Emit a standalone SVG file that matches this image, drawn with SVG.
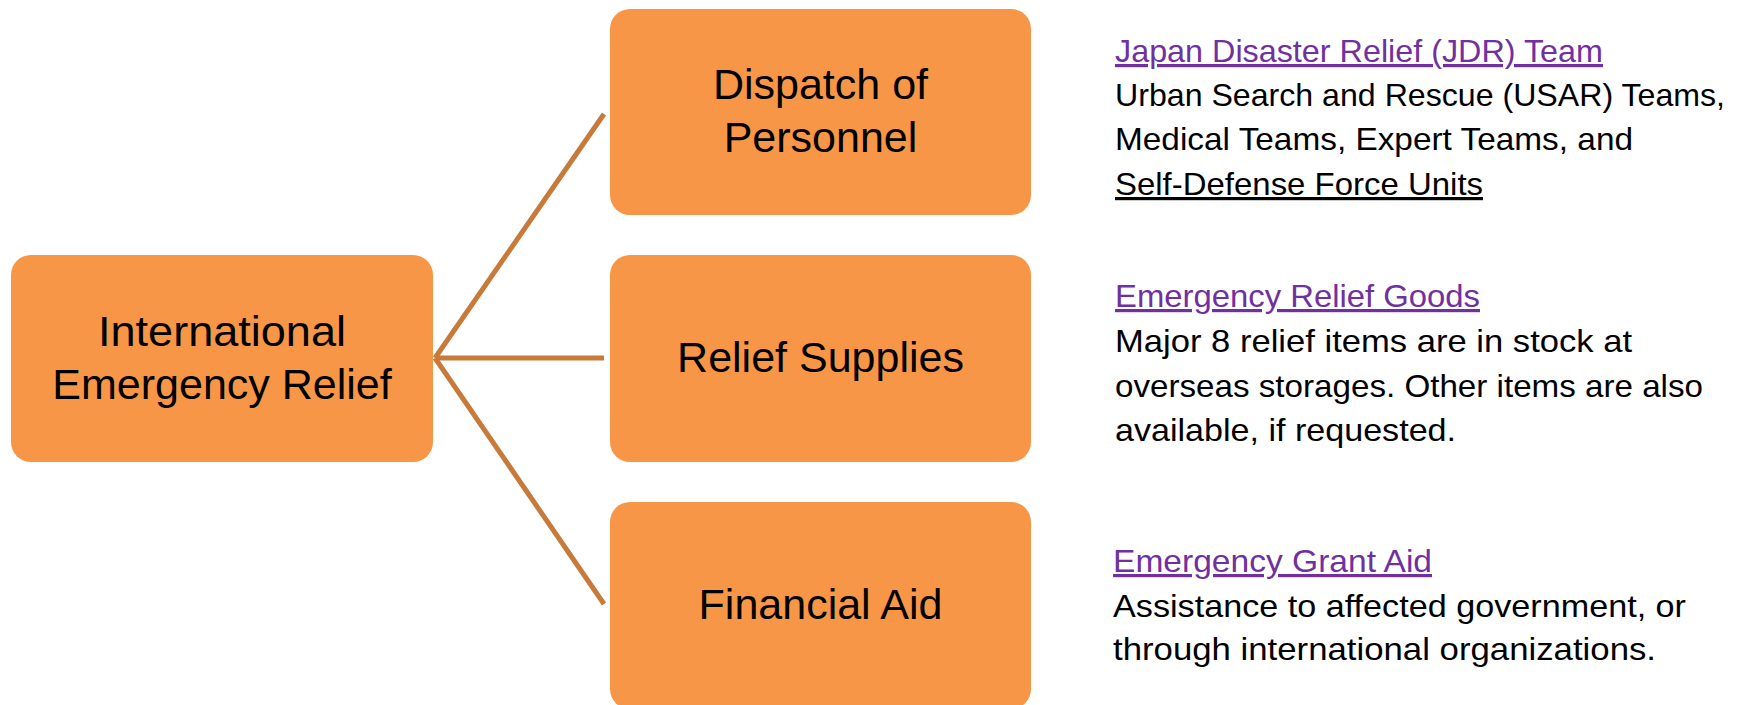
<svg xmlns="http://www.w3.org/2000/svg" width="1741" height="705" viewBox="0 0 1741 705">
  <style>
    .box { fill: #F79646; }
    .box-label { font-family: "Liberation Sans", Arial, sans-serif; font-size: 43px; fill: #000; text-anchor: middle; }
    .desc { font-family: "Liberation Sans", Arial, sans-serif; font-size: 32px; fill: #000; }
    .link { fill: #7030A0; text-decoration: underline; }
    .ul { text-decoration: underline; }
    .conn { stroke: #C87A3A; stroke-width: 5; fill: none; }
  </style>
  <rect width="1741" height="705" fill="#FFFFFF"/>

  <!-- connectors from the root node to the three branches -->
  <g id="connectors">
    <line class="conn" x1="435" y1="358" x2="604" y2="114"/>
    <line class="conn" x1="435" y1="358" x2="604" y2="358"/>
    <line class="conn" x1="435" y1="358" x2="604" y2="604"/>
  </g>

  <g id="node-root">
    <rect class="box" x="11" y="255" width="422" height="207" rx="20"/>
    <text class="box-label" x="222" y="346" textLength="248" lengthAdjust="spacingAndGlyphs">International</text>
    <text class="box-label" x="222" y="399">Emergency Relief</text>
  </g>

  <g id="node-personnel">
    <rect class="box" x="610" y="9" width="421" height="206" rx="20"/>
    <text class="box-label" x="820.5" y="99">Dispatch of</text>
    <text class="box-label" x="820.5" y="152">Personnel</text>
  </g>

  <g id="node-supplies">
    <rect class="box" x="610" y="255" width="421" height="207" rx="20"/>
    <text class="box-label" x="820.5" y="372">Relief Supplies</text>
  </g>

  <g id="node-financial">
    <rect class="box" x="610" y="502" width="421" height="207" rx="20"/>
    <text class="box-label" x="820.5" y="619">Financial Aid</text>
  </g>

  <g id="desc-personnel">
    <text class="desc link" x="1115" y="62" textLength="488" lengthAdjust="spacingAndGlyphs">Japan Disaster Relief (JDR) Team</text>
    <text class="desc" x="1115" y="106" textLength="610" lengthAdjust="spacingAndGlyphs">Urban Search and Rescue (USAR) Teams,</text>
    <text class="desc" x="1115" y="150" textLength="518" lengthAdjust="spacingAndGlyphs">Medical Teams, Expert Teams, and</text>
    <text class="desc ul" x="1115" y="195" textLength="368" lengthAdjust="spacingAndGlyphs">Self-Defense Force Units</text>
  </g>

  <g id="desc-supplies">
    <text class="desc link" x="1115" y="307" textLength="365" lengthAdjust="spacingAndGlyphs">Emergency Relief Goods</text>
    <text class="desc" x="1115" y="352" textLength="517" lengthAdjust="spacingAndGlyphs">Major 8 relief items are in stock at</text>
    <text class="desc" x="1115" y="397" textLength="588" lengthAdjust="spacingAndGlyphs">overseas storages. Other items are also</text>
    <text class="desc" x="1115" y="441" textLength="341" lengthAdjust="spacingAndGlyphs">available, if requested.</text>
  </g>

  <g id="desc-financial">
    <text class="desc link" x="1113" y="572" textLength="319" lengthAdjust="spacingAndGlyphs">Emergency Grant Aid</text>
    <text class="desc" x="1113" y="617" textLength="573" lengthAdjust="spacingAndGlyphs">Assistance to affected government, or</text>
    <text class="desc" x="1113" y="660" textLength="543" lengthAdjust="spacingAndGlyphs">through international organizations.</text>
  </g>
</svg>
